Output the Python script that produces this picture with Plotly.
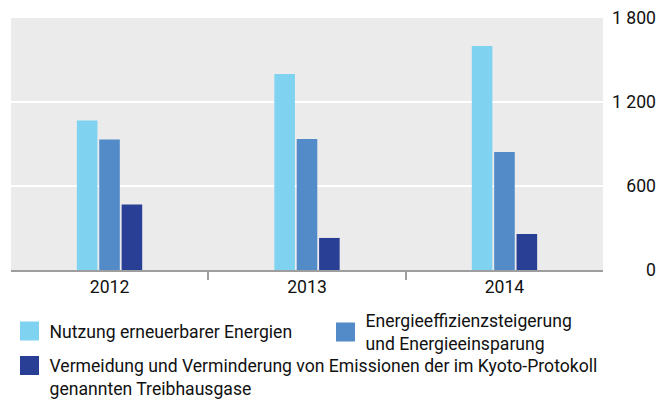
import plotly.graph_objects as go

years = ["2012", "2013", "2014"]
series_names = [
    "Nutzung erneuerbarer Energien",
    "Energieeffizienzsteigerung<br>und Energieeinsparung",
    "Vermeidung und Verminderung von Emissionen der im Kyoto-Protokoll<br>genannten Treibhausgase",
]
renewables = [1068, 1400, 1600]
efficiency = [932, 936, 843]
emissions = [468, 229, 257]
colors = ["#7fd3f0", "#538bc8", "#283f95"]
y_ticks = [0, 600, 1200, 1800]

FONT = "Roboto"
FS = 17.6
TXT = "#111111"

fig = go.Figure()
for vals, col, name in zip([renewables, efficiency, emissions], colors, series_names):
    fig.add_trace(go.Bar(x=years, y=vals, marker=dict(color=col, line=dict(width=0)),
                         name=name, showlegend=False, hoverinfo="y"))

# legend entries (larger swatches), one legend box per entry
legends = ["legend", "legend2", "legend3"]
for col, name, lg in zip(colors, series_names, legends):
    fig.add_trace(go.Scatter(x=[None], y=[None], mode="markers", yaxis="y2",
                             marker=dict(symbol="square", size=16, color=col,
                                         line=dict(color=col, width=3)),
                             name=name, legend=lg, showlegend=True))

# the page body adds an 8 px offset; the figure is sized so that the window shows 670x400
OFF = 8
W, H = 670 - OFF, 400 - OFF
L, R, T, B = 3, 8, 10, 130
pw = W - L - R
xdom_end = (595 - L) / pw


def cx(px):
    return px / W


def cy(py):
    return 1 - py / H


leg_common = dict(orientation="v", xref="container", yref="container",
                  xanchor="left", yanchor="middle",
                  font=dict(family=FONT, size=FS, color=TXT),
                  bgcolor="rgba(0,0,0,0)", borderwidth=0,
                  itemclick=False, itemdoubleclick=False)

fig.update_layout(
    width=W, height=H,
    margin=dict(l=L, r=R, t=T, b=B, pad=0, autoexpand=False),
    paper_bgcolor="white",
    plot_bgcolor="#ebebeb",
    font=dict(family=FONT, size=FS, color=TXT),
    separators=", ",
    barmode="group",
    bargap=0.66,
    bargroupgap=0.08,
    xaxis=dict(domain=[0, xdom_end], type="category", range=[-0.499, 2.499],
               tickson="boundaries", ticks="outside", ticklen=8, tickwidth=1.5,
               tickcolor="#9e9e9e", showgrid=False, showline=True,
               linecolor="#9e9e9e", linewidth=2, tickfont=dict(size=FS, color=TXT),
               fixedrange=True),
    yaxis=dict(range=[0, 1800], tickvals=y_ticks, showticklabels=False,
               showgrid=True, gridcolor="white", gridwidth=2, zeroline=False,
               fixedrange=True),
    yaxis2=dict(overlaying="y", matches="y", range=[0, 1800], side="left",
                anchor="free", position=(648 - L) / pw, tickvals=y_ticks,
                tickformat=",d", showgrid=False, zeroline=False, showline=False,
                ticks="", tickfont=dict(size=FS, color=TXT), fixedrange=True),
    legend=dict(x=cx(1.5), y=cy(323), valign="middle", **leg_common),
    legend2=dict(x=cx(317.5), y=cy(324), valign="middle", **leg_common),
    legend3=dict(x=cx(1.5), y=cy(369), valign="top", tracegroupgap=0, **leg_common),
    showlegend=True,
)

fig.write_html("out.html")
